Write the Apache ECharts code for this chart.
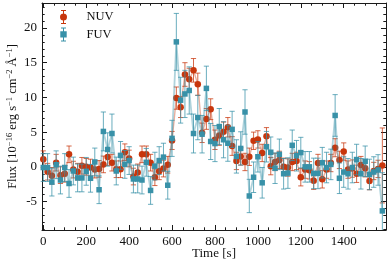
<!DOCTYPE html>
<html>
<head>
<meta charset="utf-8">
<script src="https://cdn.jsdelivr.net/npm/echarts@6/dist/echarts.min.js"></script>
<style>html,body{margin:0;padding:0;background:#fff}#c{width:389px;height:263px}</style>
</head>
<body>
<div id="c"></div>
<script>
const times = [0,20,40,60,80,100,120,140,160,180,
  200,220,240,260,280,300,320,340,360,380,
  400,420,440,460,480,500,520,540,560,580,
  600,620,640,660,680,700,720,740,760,780,
  800,820,840,860,880,900,920,940,960,980,
  1000,1020,1040,1060,1080,1100,1120,1140,1160,1180,
  1200,1220,1240,1260,1280,1300,1320,1340,1360,1380,
  1400,1420,1440,1460,1480,1500,1520,1540,1560,1580];
const nuvFlux = [1.1,-0.7,-1.3,0.6,-1.2,-1.0,1.8,-0.4,-0.7,0.15,
  0.0,-0.1,-0.4,-0.3,0.35,1.4,0.6,-0.35,-0.35,2.1,
  1.2,-1.4,-0.8,1.8,1.8,0.6,-1.5,-0.65,-0.25,0.3,
  3.8,9.9,8.6,13.3,12.6,13.9,11.9,4.9,6.9,8.3,
  3.9,4.5,5.05,5.7,3.0,0.85,1.5,0.7,1.45,3.75,
  3.95,2.0,4.4,0.1,0.7,1.0,0.0,-0.1,0.7,0.85,
  -1.5,-0.4,-0.5,-2.0,0.55,-1.8,-0.4,0.55,2.75,1.0,
  2.2,-0.4,-0.25,-1.0,0.25,-0.2,-2.05,-0.6,-0.3,0.2];
const nuvErr = [1.2,1.2,1.2,1.2,1.2,1.2,1.2,1.2,1.2,1.2,
  1.2,1.2,1.2,1.2,1.2,1.2,1.2,1.2,1.2,1.2,
  1.2,1.2,1.2,1.2,1.2,1.2,1.2,1.2,1.2,1.2,
  1.3,1.6,1.5,1.7,1.6,1.7,1.6,1.4,1.5,1.5,
  1.4,1.4,1.4,1.4,1.35,1.25,1.25,1.25,1.25,1.25,
  1.25,1.25,1.25,1.25,1.25,1.25,1.25,1.25,1.25,1.25,
  1.25,1.25,1.25,1.25,1.25,1.25,1.25,1.25,1.3,1.25,
  1.25,1.25,1.25,1.25,1.25,1.25,1.25,1.25,1.25,5.4];
const fuvFlux = [-0.1,-0.1,-2.2,0.3,-1.9,-0.1,-2.4,-0.6,-1.6,-1.6,
  -0.65,-1.65,0.7,-3.3,5.1,2.5,4.8,-0.6,1.65,0.35,
  0.9,-1.75,-1.75,-1.9,0.65,-3.4,0.1,0.9,1.4,-2.65,
  4.1,18.0,9.6,10.5,11.0,4.8,7.1,4.7,11.3,3.65,
  3.35,5.8,3.9,3.4,5.4,1.5,2.65,7.9,-4.2,-1.5,
  1.45,-2.3,2.9,2.1,-0.2,1.8,-1.0,-0.9,3.1,1.6,
  2.05,0.0,0.0,-0.95,-0.95,0.6,-0.1,0.35,7.4,-1.65,
  -0.75,-1.0,-0.1,1.05,-1.0,0.8,-1.1,-0.75,-0.45,-6.35];
const fuvErr = [2.0,2.0,2.0,2.0,2.0,2.0,2.0,2.0,2.0,2.0,
  2.0,2.0,2.0,2.0,2.8,2.4,2.8,2.0,2.0,2.0,
  2.0,2.0,2.0,2.0,2.0,2.0,2.0,2.0,2.0,2.0,
  2.6,4.1,3.3,3.4,3.4,2.8,3.2,2.7,3.2,2.6,
  2.6,2.6,2.6,2.6,2.6,2.4,2.4,3.2,2.4,2.2,
  2.2,2.2,2.2,2.2,2.2,2.2,2.2,2.2,2.2,2.2,
  2.2,2.2,2.2,2.2,2.2,2.2,2.2,2.2,3.0,2.2,
  2.2,2.2,2.2,2.2,2.2,2.2,2.2,2.2,2.2,5.5];
const xTicks = [0,200,400,600,800,1000,1200,1400];
const yTicks = [-5,0,5,10,15,20];
const seriesNames = ['NUV','FUV'];

const X_MIN = -6, X_MAX = 1597, Y_MIN = -9.1, Y_MAX = 23.6;
const xMinor = []; for (let v = 0; v <= X_MAX; v += 50) xMinor.push(v);
const yMinor = []; for (let v = -9; v <= Y_MAX; v += 1) yMinor.push(v);

const FONT = 'Liberation Serif';
const NUV_C = '#c8360c', FUV_C = '#3891a8';
const ink = '#1a1a1a';
const fmt = v => String(v);

function xAx(pos, ticks, len, showLine, showLabel, extra) {
  return Object.assign({
    type: 'value', position: pos, min: X_MIN, max: X_MAX,
    axisLine: {show: showLine, onZero: false, lineStyle: {color: ink, width: 1}},
    axisTick: {show: true, inside: true, length: len, customValues: ticks, lineStyle: {color: ink, width: 1}},
    axisLabel: {show: showLabel, customValues: ticks, formatter: fmt, margin: 5, fontFamily: FONT, fontSize: 13, color: '#111'},
    splitLine: {show: false}, minorTick: {show: false}
  }, extra || {});
}
function yAx(pos, ticks, len, showLine, showLabel, extra) {
  return Object.assign({
    type: 'value', position: pos, min: Y_MIN, max: Y_MAX,
    axisLine: {show: showLine, onZero: false, lineStyle: {color: ink, width: 1}},
    axisTick: {show: true, inside: true, length: len, customValues: ticks, lineStyle: {color: ink, width: 1}},
    axisLabel: {show: showLabel, customValues: ticks, formatter: fmt, margin: 5, fontFamily: FONT, fontSize: 13, color: '#111'},
    splitLine: {show: false}, minorTick: {show: false}
  }, extra || {});
}

function errRender(color, opacity) {
  return function (params, api) {
    const t = api.value(0), v = api.value(1), e = api.value(2);
    const top = api.coord([t, v + e]);
    const bot = api.coord([t, v - e]);
    const cs = params.coordSys;
    const x = top[0];
    const y1 = Math.max(top[1], cs.y), y2 = Math.min(bot[1], cs.y + cs.height);
    const st = {stroke: color, lineWidth: 1, opacity: opacity};
    const ch = [{type: 'line', shape: {x1: x, y1: y1, x2: x, y2: y2}, style: st}];
    const cw = 2.6;
    if (top[1] >= cs.y) ch.push({type: 'line', shape: {x1: x - cw, y1: top[1], x2: x + cw, y2: top[1]}, style: st});
    if (bot[1] <= cs.y + cs.height) ch.push({type: 'line', shape: {x1: x - cw, y1: bot[1], x2: x + cw, y2: bot[1]}, style: st});
    return {type: 'group', children: ch};
  };
}

const nuvIcon = 'path://M4.5,0H5.5V14H4.5Z M2.5,0H7.5V1H2.5Z M2.5,13H7.5V14H2.5Z M8.5,7A3.5,3.5 0 1 1 1.5,7A3.5,3.5 0 1 1 8.5,7Z';
const fuvIcon = 'path://M4.5,0H5.5V14H4.5Z M2.5,0H7.5V1H2.5Z M2.5,13H7.5V14H2.5Z M1.8,3.8H8.2V10.2H1.8Z';

const chart = echarts.init(document.getElementById('c'), null, {renderer: 'canvas'});
chart.setOption({
  animation: false,
  backgroundColor: '#fff',
  grid: {left: 42, right: 3, top: 3, bottom: 33, containLabel: false, outerBoundsMode: 'none'},
  legend: {
    orient: 'vertical', left: 60, top: 10, padding: 0, itemGap: 3.4,
    itemWidth: 36, itemHeight: 14, symbolKeepAspect: true,
    textStyle: {fontFamily: FONT, fontSize: 12.5, color: '#111'},
    data: [{name: seriesNames[0], icon: nuvIcon}, {name: seriesNames[1], icon: fuvIcon}]
  },
  xAxis: [
    xAx('bottom', xTicks, 5, true, true, {name: 'Time [s]', nameLocation: 'middle', nameGap: 17, nameMoveOverlap: false,
      nameTextStyle: {fontFamily: FONT, fontSize: 13, color: '#111', verticalAlign: 'top'}}),
    xAx('bottom', xMinor, 2.7, false, false),
    xAx('top', xTicks, 5, true, false),
    xAx('top', xMinor, 2.7, false, false)
  ],
  yAxis: [
    yAx('left', yTicks, 5, true, true, {
      name: 'Flux [10{s|−16} erg s{s|−1} cm{s|−2} Å{s|−1}]', nameLocation: 'middle', nameRotate: 90, nameGap: 21, nameMoveOverlap: false,
      nameTextStyle: {fontFamily: FONT, fontSize: 12.5, color: '#111', lineHeight: 16,
        rich: {s: {fontFamily: FONT, fontSize: 8.5, color: '#111', verticalAlign: 'top', lineHeight: 10}}}
    }),
    yAx('left', yMinor, 2.7, false, false),
    yAx('right', yTicks, 5, true, false),
    yAx('right', yMinor, 2.7, false, false)
  ],
  series: [
    {type: 'custom', name: 'NUV err', xAxisIndex: 0, yAxisIndex: 0, z: 2,
      renderItem: errRender(NUV_C, 0.75), encode: {x: 0, y: 1},
      data: times.map((t, i) => [t, nuvFlux[i], nuvErr[i]])},
    {type: 'line', name: seriesNames[0], xAxisIndex: 0, yAxisIndex: 0, z: 3,
      symbol: 'circle', symbolSize: 6.5, showSymbol: true,
      itemStyle: {color: NUV_C}, lineStyle: {color: NUV_C, width: 1.4, opacity: 0.4},
      data: times.map((t, i) => [t, nuvFlux[i]])},
    {type: 'custom', name: 'FUV err', xAxisIndex: 0, yAxisIndex: 0, z: 4,
      renderItem: errRender(FUV_C, 0.75), encode: {x: 0, y: 1},
      data: times.map((t, i) => [t, fuvFlux[i], fuvErr[i]])},
    {type: 'line', name: seriesNames[1], xAxisIndex: 0, yAxisIndex: 0, z: 5,
      symbol: 'rect', symbolSize: 5.5, showSymbol: true,
      itemStyle: {color: FUV_C}, lineStyle: {color: FUV_C, width: 1.8, opacity: 0.4},
      data: times.map((t, i) => [t, fuvFlux[i]])}
  ]
});
</script>
</body>
</html>
